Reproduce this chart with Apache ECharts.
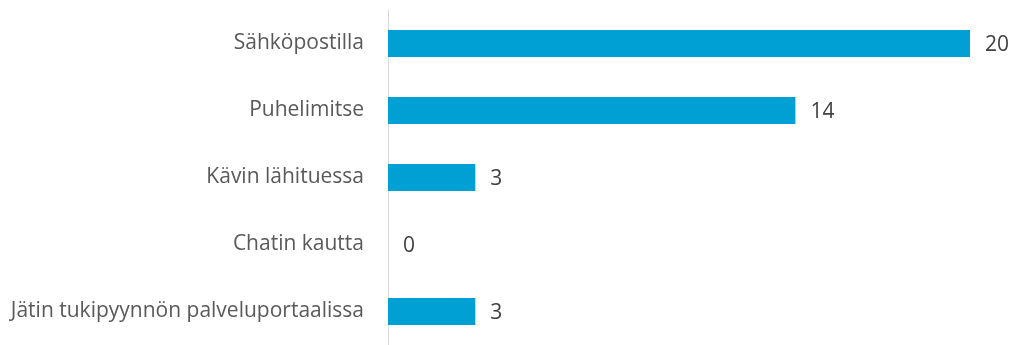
<!DOCTYPE html>
<html>
<head>
<meta charset="utf-8">
<script src="https://cdn.jsdelivr.net/npm/echarts@6/dist/echarts.min.js"></script>
<style>
html,body{margin:0;padding:0;background:#fff;}
#chart{width:1014px;height:345px;}
</style>
</head>
<body>
<div id="chart"></div>
<script>
const categories = ["Sähköpostilla", "Puhelimitse", "Kävin lähituessa", "Chatin kautta", "Jätin tukipyynnön palveluportaalissa"];
const values = [20, 14, 3, 0, 3];

const chart = echarts.init(document.getElementById('chart'), null, {renderer: 'canvas'});
const font = '"Open Sans", sans-serif';
chart.setOption({
  animation: false,
  grid: {left: 388, right: 44, top: 10, bottom: 0, containLabel: false},
  xAxis: {
    type: 'value', min: 0, max: 20,
    show: false
  },
  yAxis: {
    type: 'category',
    data: categories,
    inverse: true,
    axisLine: {show: true, lineStyle: {color: '#d9d9d9', width: 1}},
    axisTick: {show: false},
    axisLabel: {color: '#595959', fontSize: 21, fontFamily: font, margin: 24}
  },
  series: [{
    type: 'bar',
    data: values,
    barWidth: 27,
    itemStyle: {color: '#009FD4'},
    label: {show: true, position: 'right', distance: 15, color: '#404040', fontSize: 21, fontFamily: font, offset: [0, 2]}
  }]
});
</script>
</body>
</html>
